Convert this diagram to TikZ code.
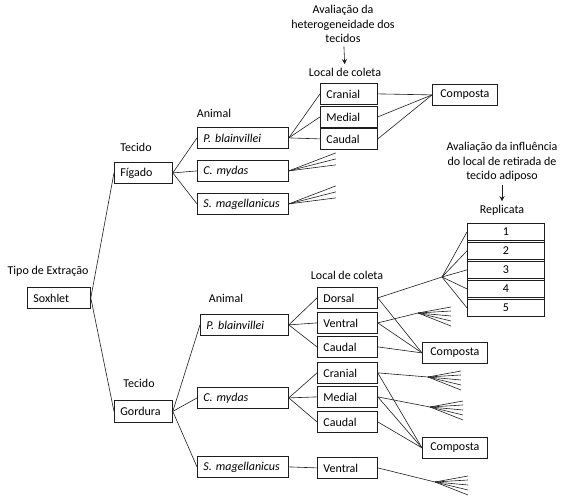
\documentclass[tikz,border=0pt]{standalone}
\usepackage{fontspec}
\setmainfont{Carlito}
\usepackage{tikz}
\usetikzlibrary{arrows.meta,positioning,fit}
\definecolor{dgink}{HTML}{1E1E1E}

\tikzset{
  cell/.style={draw=dgink,line width=0.8pt,anchor=north west,inner xsep=6pt,inner ysep=0pt,
               minimum height=21pt,align=left},
  soxbox/.style={cell,text width=51pt},
  tisbox/.style={cell,text width=46pt},
  anibox/.style={cell,text width=79pt,font=\fontsize{12pt}{14.5pt}\selectfont\itshape},
  locbox/.style={cell,text width=48pt},
  compbox/.style={cell,inner xsep=0pt,minimum width=65pt,align=center},
  repbox/.style={cell,inner xsep=0pt,minimum width=77pt,minimum height=17pt,align=center},
  fanline/.style={draw=dgink,line width=0.6pt},
}

\begin{document}
\begin{tikzpicture}[x=1pt,y=-1pt,font=\fontsize{12pt}{14.5pt}\selectfont,line width=0.6pt]
\useasboundingbox (0,0) rectangle (566,503);

% level labels
\node (lblext) at (48,271) {Tipo de Extração};
\node (lbltecA) at (136,147) {Tecido};
\node (lbltecB) at (139,383) {Tecido};
\node (lblaniA) at (214,113) {Animal};
\node (lblaniB) at (226,298) {Animal};
\node (lbllocA) at (345,72) {Local de coleta};
\node (lbllocB) at (347,275) {Local de coleta};
\node (lblrep) at (502,210) {Replicata};

% notes
\node[align=center] (notehet) at (343,24) {Avaliação da\\heterogeneidade dos\\tecidos};
\node[align=center] (noteinf) at (502,162) {Avaliação da influência\\do local de retirada de\\tecido adiposo};
\draw[-{Stealth[length=5pt,width=5pt]},dgink] (notehet) -- (lbllocA);
\draw[-{Stealth[length=5pt,width=5pt]},dgink] (noteinf) -- (lblrep);

% boxes
\node[soxbox] (sox) at (27,287) {Soxhlet};
\node[tisbox] (fig) at (114,162) {Fígado};
\node[tisbox,minimum height=22pt] (gor) at (114,400) {Gordura};

\node[anibox] (pbA) at (197,127) {P. blainvillei};
\node[anibox] (cmA) at (197,160) {C. mydas};
\node[anibox] (smA) at (197,193) {S. magellanicus};
\node[anibox,text width=76pt] (pbB) at (200,314) {P. blainvillei};
\node[anibox] (cmB) at (197,387) {C. mydas};
\node[anibox] (smB) at (197,456) {S. magellanicus};

\node[locbox,text width=45pt] (crA) at (320,83) {Cranial};
\node[locbox,text width=45pt] (meA) at (320,106) {Medial};
\node[locbox,text width=45pt] (caA) at (320,128) {Caudal};
\node[compbox] (coA) at (432,84) {Composta};

\node[locbox] (doB) at (317,287) {Dorsal};
\node[locbox] (veB) at (317,312) {Ventral};
\node[locbox] (caB) at (317,336) {Caudal};
\node[locbox] (crC) at (317,362) {Cranial};
\node[locbox] (meC) at (317,386) {Medial};
\node[locbox] (caC) at (317,411) {Caudal};
\node[locbox] (veD) at (317,457) {Ventral};
\node[compbox] (coB) at (422,342) {Composta};
\node[compbox] (coC) at (422,437) {Composta};

\foreach \i/\y in {1/223,2/242,3/261,4/280,5/299}
  \node[repbox] (rep\i) at (467,\y) {\i};
\node[fit=(rep1)(rep5),draw=dgink,line width=0.8pt,inner sep=0pt] (repall) {};

% fan hubs
\coordinate (hubdo) at (442,277);
\coordinate (hubve) at (418,313);
\coordinate (hubcr) at (428,377);
\coordinate (hubme) at (430,407);
\coordinate (hubvd) at (435,482);

% connectors
\draw[fanline] (sox.east) -- (fig.west);
\draw[fanline] (sox.east) -- (gor.west);
\foreach \n in {pbA,cmA,smA} \draw[fanline] (fig.east) -- (\n.west);
\foreach \n in {crA,meA,caA} {
  \draw[fanline] (pbA.east) -- (\n.west);
  \draw[fanline] (\n.east) -- (coA.west);
}
\foreach \n in {cmA,smA}
  \foreach \dy in {-18,-12,-6} \draw[fanline] (\n.east) -- ++(47,\dy);

\foreach \n in {pbB,cmB,smB} \draw[fanline] (gor.east) -- (\n.west);
\foreach \n in {doB,veB,caB} {
  \draw[fanline] (pbB.east) -- (\n.west);
  \draw[fanline] (\n.east) -- (coB.west);
}
\foreach \n in {crC,meC,caC} {
  \draw[fanline] (cmB.east) -- (\n.west);
  \draw[fanline] (\n.east) -- (coC.west);
}
\draw[fanline] (smB.east) -- (veD.west);

\draw[fanline] (doB.east) -- (hubdo);
\foreach \i in {1,...,5} \draw[fanline] (hubdo) -- (rep\i.west);
\draw[fanline] (veB.east) -- (hubve);
\draw[fanline] (crC.east) -- (hubcr);
\draw[fanline] (meC.east) -- (hubme);
\draw[fanline] (veD.east) -- (hubvd);
\foreach \h in {hubve,hubcr,hubme,hubvd}
  \foreach \dy in {-6,-2,3,8,13} \draw[fanline] (\h) -- ++(33,\dy);
\end{tikzpicture}
\end{document}
